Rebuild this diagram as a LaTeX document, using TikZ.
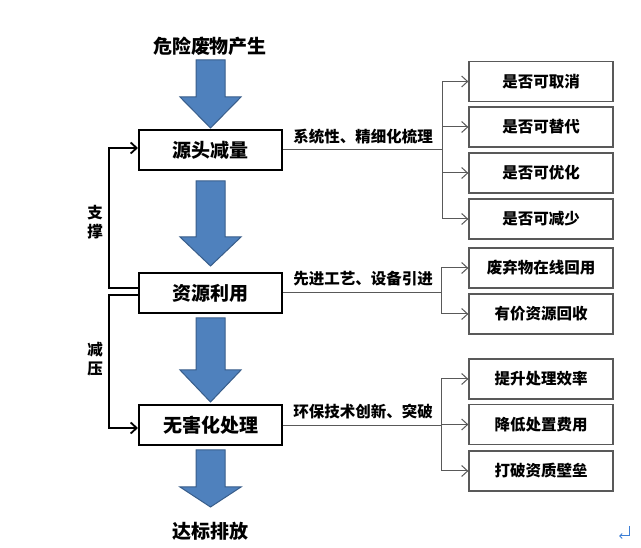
\documentclass[tikz,border=0pt]{standalone}
\usepackage{fontspec}
\newfontfamily\cjk{Noto Sans CJK SC}
\usetikzlibrary{arrows.meta}
\definecolor{arrfill}{HTML}{4F81BD}
\definecolor{arrline}{HTML}{385D8A}
\definecolor{subline}{HTML}{595959}
\definecolor{retblue}{HTML}{3D7FD6}
\begin{document}
\begin{tikzpicture}[x=1pt,y=-1pt,
  mainbox/.style={draw=black,line width=2pt,minimum width=143pt,minimum height=40pt,inner sep=0pt,font=\cjk\bfseries\fontsize{19}{19}\selectfont},
  subbox/.style={draw=subline,line width=1.3pt,minimum width=144pt,minimum height=40pt,inner sep=0pt,font=\cjk\bfseries\fontsize{15.5}{15.5}\selectfont},
  titletext/.style={inner sep=0pt,font=\cjk\bfseries\fontsize{19}{19}\selectfont},
  labeltext/.style={inner sep=0pt,font=\cjk\bfseries\fontsize{15.5}{15.5}\selectfont},
  sidetext/.style={inner sep=0pt,align=center,font=\cjk\bfseries\fontsize{15.5}{19}\selectfont},
  gline/.style={draw=subline,line width=1pt},
  garrow/.style={gline,-{Straight Barb[length=6pt,width=11pt]}},
  barrow/.style={draw=black,line width=1.8pt,-{Straight Barb[length=6pt,width=11pt]}},
  bline/.style={draw=black,line width=1.8pt},
  bigarr/.style={fill=arrfill,draw=arrline,line width=1pt,line join=miter}
]
\fill[white] (0,0) rectangle (641,548);
\useasboundingbox (0,0) rectangle (641,548);

% big arrows
\def\myarrow#1#2#3{\filldraw[bigarr] (196,#1) -- (225,#1) -- (225,#2) -- (241,#2) -- (210.5,#3) -- (180,#2) -- (196,#2) -- cycle;}
\myarrow{60}{97}{128}
\myarrow{181}{237}{266}
\myarrow{318}{370}{402}
\myarrow{450}{487}{507}

% titles
\node[titletext] (t1) at (210,46) {危险废物产生};
\node[titletext] (t2) at (210,531) {达标排放};

% main boxes
\node[mainbox,fill=white] (m1) at (210.5,150) {源头减量};
\node[mainbox,fill=white] (m2) at (210.5,293) {资源利用};
\node[mainbox,fill=white] (m3) at (210.5,425.5) {无害化处理};

% sub boxes
\node[subbox] (s1) at (541,81.5) {是否可取消};
\node[subbox] (s2) at (541,127) {是否可替代};
\node[subbox] (s3) at (541,173) {是否可优化};
\node[subbox] (s4) at (541,219) {是否可减少};
\node[subbox] (s5) at (541,268) {废弃物在线回用};
\node[subbox] (s6) at (541,314) {有价资源回收};
\node[subbox] (s7) at (541,379) {提升处理效率};
\node[subbox] (s8) at (541,424.5) {降低处置费用};
\node[subbox] (s9) at (541,471) {打破资质壁垒};

% branch coordinates
\coordinate (b1) at (442,150);
\coordinate (b2) at (441,293);
\coordinate (b3) at (441,425.5);

% group 1
\draw[gline] (m1.east) -- (b1);
\node[labeltext] (l1) at (363,137) {系统性、精细化梳理};
\draw[gline] (b1 |- s1.west) -- (b1 |- s4.west);
\foreach \s in {s1,s2,s3,s4} \draw[garrow] (b1 |- \s.west) -- (\s.west);

% group 2
\draw[gline] (m2.east) -- (b2);
\node[labeltext] (l2) at (363,279) {先进工艺、设备引进};
\draw[gline] (b2 |- s5.west) -- (b2 |- s6.west);
\foreach \s in {s5,s6} \draw[garrow] (b2 |- \s.west) -- (\s.west);

% group 3
\draw[gline] (m3.east) -- (b3);
\node[labeltext] (l3) at (363,412) {环保技术创新、突破};
\draw[gline] (b3 |- s7.west) -- (b3 |- s9.west);
\foreach \s in {s7,s8,s9} \draw[garrow] (b3 |- \s.west) -- (\s.west);

% left feedback lines
\draw[barrow] ([yshift=5pt]m2.west) -- ++(-29,0) |- ([yshift=2pt]m1.west);
\draw[barrow] ([yshift=-2pt]m2.west) -- ++(-29,0) |- ([yshift=-2.5pt]m3.west);
\node[sidetext] (sz) at (95,222) {支\\撑};
\node[sidetext] (jy) at (95,359) {减\\压};

% paragraph mark
\draw[retblue,line width=1pt,-{Straight Barb[length=2.5pt,width=5pt]}] (629,526) -- (629,536) -- (619,536);
\end{tikzpicture}
\end{document}
